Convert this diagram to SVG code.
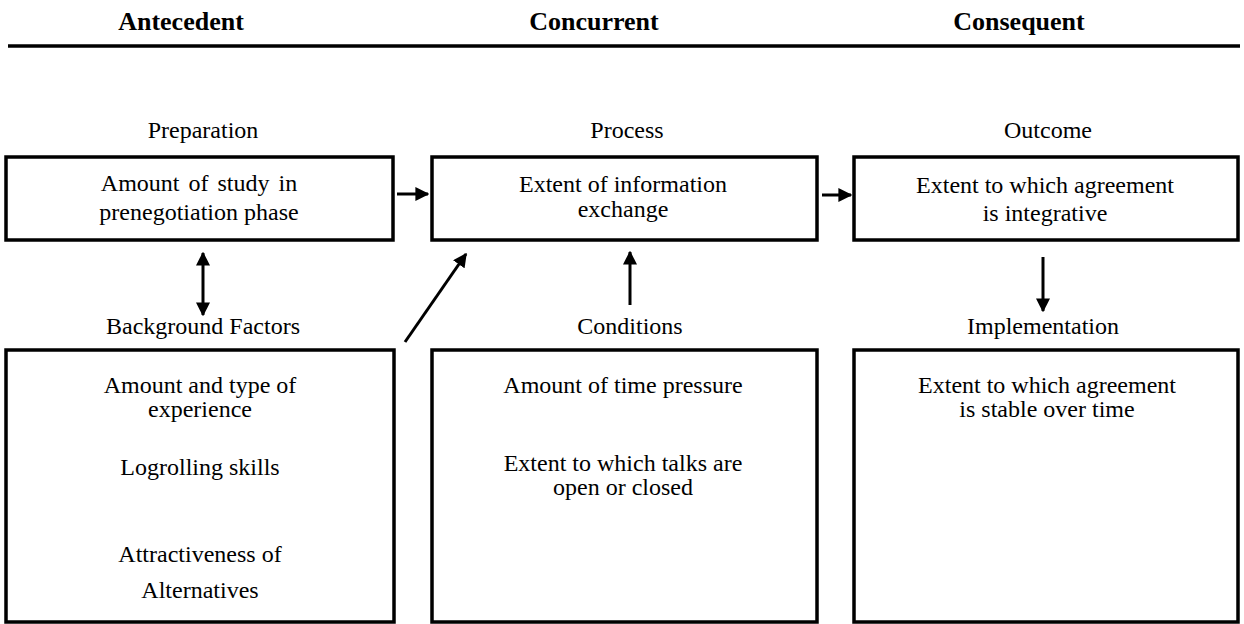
<svg xmlns="http://www.w3.org/2000/svg" width="1244" height="624" viewBox="0 0 1244 624">
<defs>
<style>
text{font-family:"Liberation Serif","Times New Roman",serif;font-size:24px;fill:#000;text-anchor:middle}
.hd{font-weight:bold;font-size:26px}
.box{fill:#fff;stroke:#000;stroke-width:3.5}
.con{stroke:#000;stroke-width:3;fill:none}
</style>
<marker id="ah" viewBox="0 0 10 10" refX="9" refY="5" markerUnits="userSpaceOnUse" markerWidth="14" markerHeight="14" orient="auto-start-reverse">
<path d="M0,0 L10,5 L0,10 z" fill="#000"/>
</marker>
</defs>
<rect width="1244" height="624" fill="#fff"/>
<g id="headers">
<text class="hd" x="181" y="30">Antecedent</text>
<text class="hd" x="594" y="30">Concurrent</text>
<text class="hd" x="1019" y="30">Consequent</text>
<line x1="8" y1="46" x2="1240" y2="46" stroke="#000" stroke-width="3.5"/>
</g>
<g id="preparation">
<text x="203" y="138">Preparation</text>
<rect class="box" x="6" y="157" width="387" height="83"/>
<text x="199" y="191" word-spacing="3">Amount of study in</text>
<text x="199" y="220">prenegotiation phase</text>
</g>
<g id="process">
<text x="627" y="138">Process</text>
<rect class="box" x="432" y="157" width="385" height="83"/>
<text x="623" y="192">Extent of information</text>
<text x="623" y="217">exchange</text>
</g>
<g id="outcome">
<text x="1048" y="138">Outcome</text>
<rect class="box" x="854" y="157" width="384" height="83"/>
<text x="1045" y="193">Extent to which agreement</text>
<text x="1045" y="221">is integrative</text>
</g>
<g id="background">
<text x="203" y="334">Background Factors</text>
<rect class="box" x="6" y="350" width="388" height="272"/>
<text x="200" y="393">Amount and type of</text>
<text x="200" y="417">experience</text>
<text x="200" y="475">Logrolling skills</text>
<text x="200" y="562">Attractiveness of</text>
<text x="200" y="598">Alternatives</text>
</g>
<g id="conditions">
<text x="630" y="334">Conditions</text>
<rect class="box" x="432" y="350" width="385" height="272"/>
<text x="623" y="393">Amount of time pressure</text>
<text x="623" y="471">Extent to which talks are</text>
<text x="623" y="495">open or closed</text>
</g>
<g id="implementation">
<text x="1043" y="334">Implementation</text>
<rect class="box" x="854" y="350" width="384" height="272"/>
<text x="1047" y="393">Extent to which agreement</text>
<text x="1047" y="417">is stable over time</text>
</g>
<g id="connectors">
<line class="con" x1="397" y1="194" x2="428" y2="194" marker-end="url(#ah)"/>
<line class="con" x1="822" y1="195" x2="851" y2="195" marker-end="url(#ah)"/>
<line class="con" x1="203" y1="253" x2="203" y2="315" marker-start="url(#ah)" marker-end="url(#ah)"/>
<line class="con" x1="405" y1="342" x2="466" y2="254" marker-end="url(#ah)"/>
<line class="con" x1="630" y1="305" x2="630" y2="252" marker-end="url(#ah)"/>
<line class="con" x1="1043" y1="257" x2="1043" y2="311" marker-end="url(#ah)"/>
</g>
</svg>
